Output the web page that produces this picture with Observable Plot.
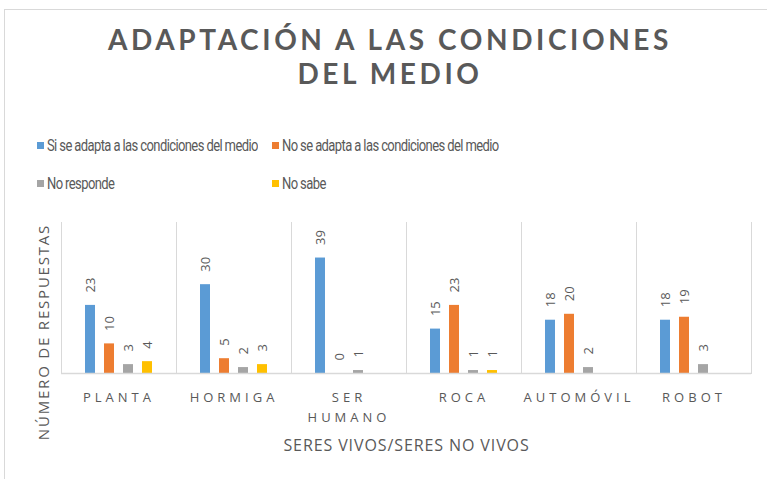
<!DOCTYPE html>
<html>
<head>
<meta charset="utf-8">
<script src="https://cdn.jsdelivr.net/npm/d3@7"></script>
<script src="https://cdn.jsdelivr.net/npm/@observablehq/plot@0.6"></script>
<style>
  html, body { margin: 0; padding: 0; background: #fff; }
  #wrap { position: relative; width: 767px; height: 479px; overflow: hidden; font-family: "Open Sans", sans-serif; color: #595959; }
  #border { position: absolute; left: 4px; top: 9px; right: -5px; bottom: -5px; border-left: 1px solid #d9d9d9; border-top: 1px solid #d9d9d9; }
  .title { position: absolute; left: 0; width: 780px; text-align: center; font-family: Lato, "Open Sans", sans-serif; font-weight: 700; font-size: 28px; line-height: 34px; height: 34px; letter-spacing: 3.6px; color: #595959; white-space: nowrap; }
  .leg { position: absolute; font-family: Roboto, sans-serif; font-size: 13px; letter-spacing: -0.6px; color: #595959; line-height: 16px; white-space: nowrap; }
  .leg span.sw { display: inline-block; width: 7px; height: 7px; margin-right: 3px; vertical-align: 1px; }
  .leg span.tx { display: inline-block; transform: scaleY(1.3); transform-origin: left center; }
  #ytitle { position: absolute; left: 43px; top: 332px; transform: translate(-50%, -50%) rotate(-90deg); font-family: "Open Sans", sans-serif; font-size: 15px; letter-spacing: 1.8px; color: #595959; white-space: nowrap; line-height: 18px; }
  #chart { position: absolute; left: 0; top: 200px; }
  #chart svg { overflow: visible; }
  g[aria-label="fx-axis tick label"] text { letter-spacing: 4px; }
  g[aria-label="fx-axis label"] text { letter-spacing: 0.9px; }
  g[aria-label="data-labels"] text { letter-spacing: 1.5px; }
</style>
</head>
<body>
<div id="wrap">
  <div id="border"></div>
  <div class="title" style="top:22px">ADAPTACIÓN A LAS CONDICIONES</div>
  <div class="title" style="top:56px">DEL MEDIO</div>
  <div id="legend"></div>
  <div id="chart"></div>
  <div id="ytitle"></div>
</div>
<script>
const categories = ["PLANTA", "HORMIGA", "SER HUMANO", "ROCA", "AUTOMÓVIL", "ROBOT"];
const series = ["Si se adapta a las condiciones del medio", "No se adapta a las condiciones del medio", "No responde", "No sabe"];
const colors = ["#5b9bd5", "#ed7d31", "#a5a5a5", "#ffc000"];
const siAdapta = [23, 30, 39, 15, 18, 18];
const noAdapta = [10, 5, 0, 23, 20, 19];
const noResponde = [3, 2, 1, 1, 2, 3];
const noSabe = [4, 3, null, 1, null, null];
const yTitle = "NÚMERO DE RESPUESTAS";
const xTitle = "SERES VIVOS/SERES NO VIVOS";

const seriesValues = [siAdapta, noAdapta, noResponde, noSabe];
const table = [];
categories.forEach((c, i) => {
  series.forEach((s, j) => {
    const v = seriesValues[j][i];
    if (v !== null) table.push({category: c, series: s, value: v});
  });
});

document.getElementById("ytitle").textContent = yTitle;

// legend (HTML)
const legendPos = [[37, 138], [272, 138], [37, 176], [272, 176]];
const legend = document.getElementById("legend");
series.forEach((s, j) => {
  const d = document.createElement("div");
  d.className = "leg";
  d.style.left = legendPos[j][0] + "px";
  d.style.top = legendPos[j][1] + "px";
  const sw = document.createElement("span");
  sw.className = "sw";
  sw.style.background = colors[j];
  const tx = document.createElement("span");
  tx.className = "tx";
  tx.textContent = s;
  d.appendChild(sw);
  d.appendChild(tx);
  legend.appendChild(d);
});

const chart = Plot.plot({
  width: 767,
  height: 279,
  marginTop: 22,
  marginBottom: 106,
  marginLeft: 58,
  marginRight: 14,
  style: {color: "#595959", fontFamily: "'Open Sans', sans-serif", background: "transparent"},
  fx: {domain: categories, padding: 0},
  x: {domain: series, paddingInner: 0.47, paddingOuter: 1.18, axis: null},
  y: {domain: [0, 51], axis: null},
  color: {domain: series, range: colors},
  marks: [
    Plot.frame({anchor: "left", stroke: "#d9d9d9", strokeOpacity: 1}),
    Plot.frame({anchor: "right", stroke: "#d9d9d9", strokeOpacity: 1}),
    Plot.barY(table, {fx: "category", x: "series", y: "value", fill: "series"}),
    Plot.ruleY([0], {stroke: "#d9d9d9", strokeWidth: 1.3}),
    Plot.text(table, {fx: "category", x: "series", y: "value", text: d => String(d.value),
      rotate: -90, textAnchor: "start", lineAnchor: "middle", dy: -13, fontSize: 13,
      fill: "#595959", ariaLabel: "data-labels"}),
    Plot.axisFx({anchor: "bottom", tickSize: 0, tickPadding: 14, fontSize: 13, lineHeight: 1.55,
      tickFormat: d => d === "SER HUMANO" ? "SER\nHUMANO" : d, label: null, dx: 0}),
    Plot.axisFx({anchor: "bottom", ticks: [], tickSize: 0, label: xTitle, labelAnchor: "center",
      labelOffset: 77, fontSize: 16})
  ]
});
document.getElementById("chart").appendChild(chart);
</script>
</body>
</html>
